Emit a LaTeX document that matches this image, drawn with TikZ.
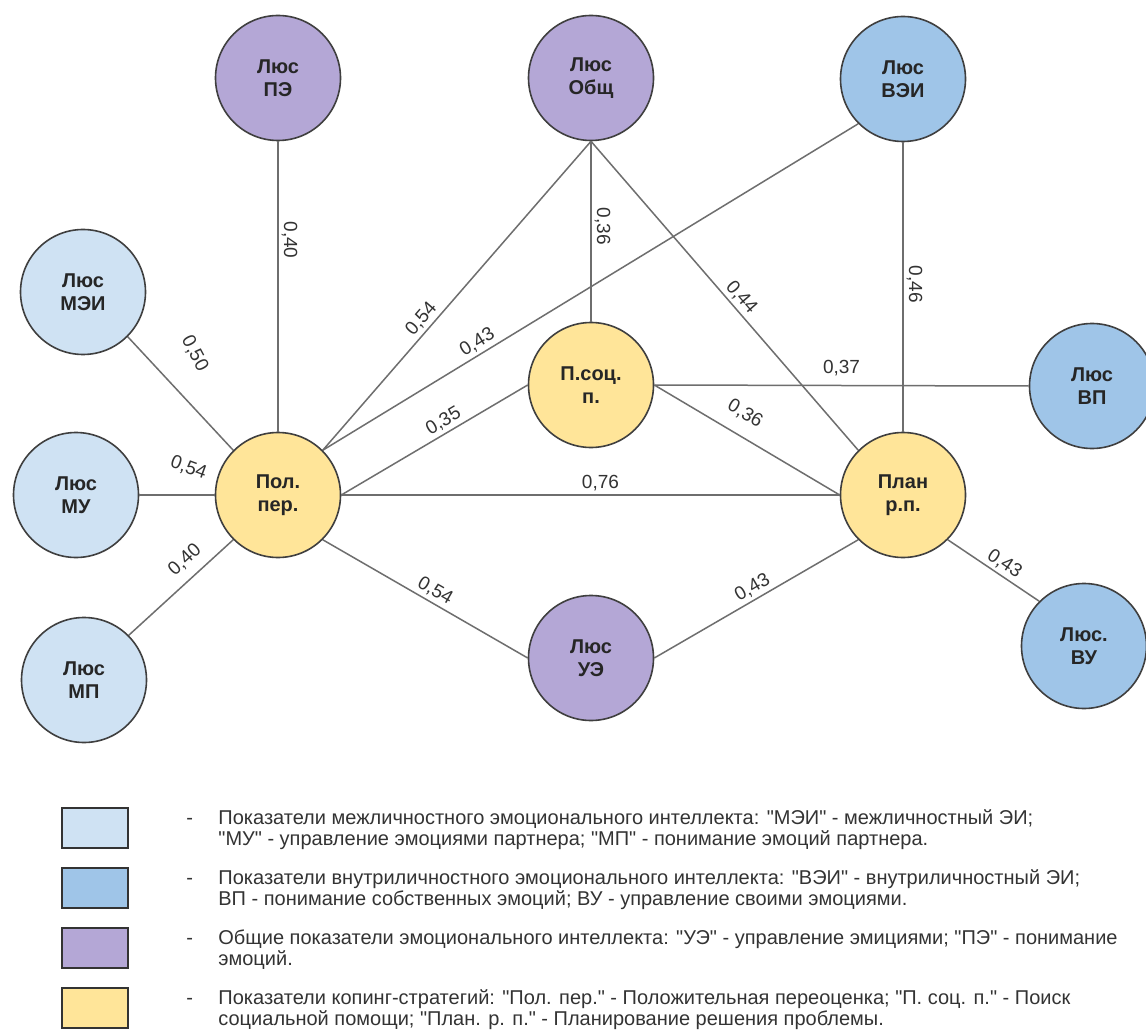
\documentclass[tikz,border=0pt]{standalone}
\usepackage{fontspec}
\setmainfont{Liberation Sans}[Ligatures=TeXOff]
\usetikzlibrary{positioning}
\definecolor{mezhblue}{HTML}{CFE2F3}
\definecolor{vnutrblue}{HTML}{9FC5E8}
\definecolor{obshviolet}{HTML}{B4A7D6}
\definecolor{kopingyellow}{HTML}{FFE599}
\definecolor{rim}{HTML}{3F3F3F}
\definecolor{wire}{HTML}{6E6E6E}
\tikzstyle{indicator}=[circle, draw=rim, line width=0.8pt, minimum size=62.5pt, inner sep=0pt,
  align=center, text=black!85, font=\fontsize{10}{11.5}\selectfont\bfseries]
\tikzstyle{mezh}=[indicator, fill=mezhblue]
\tikzstyle{vnutr}=[indicator, fill=vnutrblue]
\tikzstyle{obshie}=[indicator, fill=obshviolet]
\tikzstyle{koping}=[indicator, fill=kopingyellow]
\tikzstyle{link}=[draw=wire, line width=0.75pt]
\tikzstyle{coef}=[font=\fontsize{9.5}{11}\selectfont, text=black!80, inner sep=1.5pt]
\tikzstyle{legbox}=[draw=black!80, line width=1pt, minimum width=33pt, minimum height=20pt, inner sep=0pt]
\tikzstyle{legtext}=[anchor=north west, align=left, inner sep=0pt, text=black!80,
  font=\fontsize{10}{10.5}\selectfont]

\begin{document}
\begin{tikzpicture}[x=0.5pt, y=-0.5pt]
  \path[use as bounding box, fill=white] (0,0) rectangle (1146,1032);
  % indicators
  \node[obshie] (lpe) at (278,78) {Люс\\ПЭ};
  \node[obshie] (lobsh) at (591,78) {Люс\\Общ};
  \node[vnutr] (lvei) at (903,79) {Люс\\ВЭИ};
  \node[mezh] (lmei) at (83,292) {Люс\\МЭИ};
  \node[mezh] (lmu) at (76,495) {Люс\\МУ};
  \node[mezh] (lmp) at (84,680) {Люс\\МП};
  \node[koping] (polper) at (278,495) {Пол.\\пер.};
  \node[koping] (psoc) at (591,385) {П.соц.\\п.};
  \node[koping] (planrp) at (903,495) {План\\р.п.};
  \node[vnutr] (lvp) at (1092,386) {Люс\\ВП};
  \node[vnutr] (lvu) at (1084,646) {Люс.\\ВУ};
  \node[obshie] (lue) at (591,658) {Люс\\УЭ};

  % correlations
  \path[link] (lpe.south) edge node[coef, sloped, above, pos=0.34] {0,40} (polper.north);
  \path[link] (lobsh.south) edge node[coef, sloped, above, pos=0.6] {0,54} (polper.north east);
  \path[link] (lvei.south west) edge node[coef, sloped, above, pos=0.7] {0,43} (polper.north east);
  \path[link] (lobsh.south) edge node[coef, sloped, above, pos=0.47] {0,36} (psoc.north);
  \path[link] (lobsh.south) edge node[coef, sloped, above, pos=0.53] {0,44} (planrp.north west);
  \path[link] (lvei.south) edge node[coef, sloped, above, pos=0.49] {0,46} (planrp.north);
  \path[link] (lmei.south east) edge node[coef, pos=0.36, xshift=14.5pt, yshift=12pt, rotate=-62] {0,50} (polper.north west);
  \path[link] (lmu.east) edge node[coef, above=8pt, rotate=-20, pos=0.6] {0,54} (polper.west);
  \path[link] (lmp.north east) edge node[coef, sloped, above=3pt, pos=0.65] {0,40} (polper.south west);
  \path[link] (polper.east) edge node[coef, sloped, above, pos=0.58] {0,35} (psoc.west);
  \path[link] (polper.east) edge node[coef, above, pos=0.52] {0,76} (planrp.west);
  \path[link] (psoc.east) edge node[coef, sloped, above=5pt, pos=0.43] {0,36} (planrp.west);
  \path[link] (psoc.east) edge node[coef, above=3pt, pos=0.5] {0,37} (lvp.west);
  \path[link] (polper.south east) edge node[coef, sloped, above, pos=0.52] {0,54} (lue.west);
  \path[link] (lue.east) edge node[coef, sloped, above, pos=0.51] {0,43} (planrp.south west);
  \path[link] (planrp.south east) edge node[coef, sloped, above, pos=0.55] {0,43} (lvu.north west);

  % legend
  \node[legbox, fill=mezhblue] (box1) at (95,828) {};
  \node[legbox, fill=vnutrblue] (box2) at (95,888) {};
  \node[legbox, fill=obshviolet] (box3) at (95,948) {};
  \node[legbox, fill=kopingyellow] (box4) at (95,1008) {};
  \node[legtext] (dash1) at (186,809) {\vphantom{ПЭй}-};
  \node[legtext] (dash2) at (186,869) {\vphantom{ПЭй}-};
  \node[legtext] (dash3) at (186,929) {\vphantom{ПЭй}-};
  \node[legtext] (dash4) at (186,989) {\vphantom{ПЭй}-};
  \node[legtext] (leg1) at (218,809) {Показатели межличностного эмоционального интеллекта: "МЭИ" - межличностный ЭИ;\\"МУ" - управление эмоциями партнера; "МП" - понимание эмоций партнера.};
  \node[legtext] (leg2) at (218,869) {Показатели внутриличностного эмоционального интеллекта: "ВЭИ" - внутриличностный ЭИ;\\ВП - понимание собственных эмоций; ВУ - управление своими эмоциями.};
  \node[legtext] (leg3) at (218,929) {Общие показатели эмоционального интеллекта: "УЭ" - управление эмициями; "ПЭ" - понимание\\эмоций.};
  \node[legtext] (leg4) at (218,989) {Показатели копинг-стратегий: "Пол. пер." - Положительная переоценка; "П. соц. п." - Поиск\\социальной помощи; "План. р. п." - Планирование решения проблемы.};
\end{tikzpicture}
\end{document}
